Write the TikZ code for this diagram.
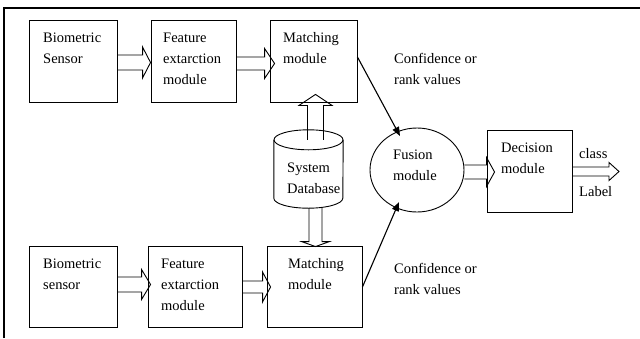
\documentclass[tikz,border=0pt]{standalone}
\usepackage{fontspec}
\setmainfont{Liberation Serif}
\usetikzlibrary{calc,arrows.meta,shapes.geometric}
% horizontal block arrow: start, tip, shaft half height, head half height, head length
\newcommand{\blkR}[5]{\draw[blk] let \p1=(#1), \p2=(#2) in
  (\x1,\y2+#3) -- (\x2-#5,\y2+#3) -- (\x2-#5,\y2+#4) -- (\x2,\y2)
  -- (\x2-#5,\y2-#4) -- (\x2-#5,\y2-#3) -- (\x1,\y2-#3);}
% upward block arrow
\newcommand{\blkU}[5]{\draw[blk] let \p1=(#1), \p2=(#2) in
  (\x2-#3,\y1) -- (\x2-#3,\y2-#5) -- (\x2-#4,\y2-#5) -- (\x2,\y2)
  -- (\x2+#4,\y2-#5) -- (\x2+#3,\y2-#5) -- (\x2+#3,\y1);}
% downward block arrow
\newcommand{\blkD}[5]{\draw[blk] let \p1=(#1), \p2=(#2) in
  (\x2-#3,\y1) -- (\x2-#3,\y2+#5) -- (\x2-#4,\y2+#5) -- (\x2,\y2)
  -- (\x2+#4,\y2+#5) -- (\x2+#3,\y2+#5) -- (\x2+#3,\y1);}
\begin{document}
\begin{tikzpicture}[x=1pt,y=-1pt,
  box/.style={draw, line width=0.9pt, rectangle, inner sep=0pt},
  blk/.style={draw, line width=0.9pt, line join=miter},
  lbl/.style={anchor=north west, inner sep=0pt, align=left,
    font=\fontsize{14.5}{21}\selectfont},
  thin/.style={line width=1.1pt, -{Triangle[length=9pt,width=7pt]}},
  frame/.style={line width=1.3pt}]
\useasboundingbox (0,0) rectangle (640,338);
\draw[frame] (4,338) -- (4,8) -- (640,8);

% boxes
\node[box, minimum width=88pt, minimum height=82pt] (b1) at (73,61) {};
\node[box, minimum width=85pt, minimum height=82pt] (b2) at (193.5,61) {};
\node[box, minimum width=87pt, minimum height=82pt] (b3) at (313.5,61) {};
\node[box, minimum width=88pt, minimum height=81pt] (b4) at (73,286.5) {};
\node[box, minimum width=94pt, minimum height=81pt] (b5) at (195,286.5) {};
\node[box, minimum width=95pt, minimum height=81pt] (b6) at (314.5,286.5) {};
\node[box, minimum width=85pt, minimum height=82pt] (dec) at (529.5,171) {};
\node[draw, line width=0.9pt, ellipse, inner sep=0pt, minimum width=94pt, minimum height=84pt] (fus) at (417,170) {};
\node[inner sep=0pt, minimum width=69pt, minimum height=78pt] (db) at (308.5,169) {};
\coordinate (out) at (619,171.5);

% cylinder
\draw[line width=0.9pt] ($(db.north)+(0,10)$) ellipse [x radius=34.5pt, y radius=10pt];
\draw[line width=0.9pt] ($(db.north west)+(0,10)$) -- ($(db.south west)+(0,-10)$)
  arc[start angle=180, end angle=360, x radius=34.5pt, y radius=10pt]
  -- ($(db.north east)+(0,10)$);

% block arrows
\blkR{b1.east}{$(b2.west)+(0,1.5)$}{7.5pt}{15.5pt}{8pt}
\blkR{b2.east}{$(b3.west)+(5,2.5)$}{6.5pt}{15pt}{10pt}
\blkR{b4.east}{$(b5.west)+(3,-2)$}{7.5pt}{15pt}{9pt}
\blkR{b5.east}{$(b6.west)+(4,0.5)$}{6pt}{15pt}{8pt}
\blkR{fus.east}{$(dec.west)+(8,1)$}{7pt}{14.5pt}{8pt}
\blkR{dec.east}{out}{4.5pt}{9pt}{10pt}
\blkU{$(db.north)+(0,10)$}{$(b3.south)+(2,-8)$}{8pt}{16.5pt}{11pt}
\blkD{db.south}{$(b6.north)+(1,1)$}{6.5pt}{14pt}{5pt}

% thin arrows
\draw[thin] ($(b3.east)+(0,-4)$) -- ($(fus.center)+(-17,-34)$);
\draw[thin] ($(b6.east)+(0,0.5)$) -- ($(fus.center)+(-18,32)$);

% texts
\node[lbl] (t1) at (43,27.1) {\strut Biometric\\Sensor};
\node[lbl] (t2) at (163,27.1) {\strut Feature\\extarction\\module};
\node[lbl] (t3) at (283,27.1) {\strut Matching\\module};
\node[lbl] (t4) at (43,253.1) {\strut Biometric\\sensor};
\node[lbl] (t5) at (161,253.1) {\strut Feature\\extarction\\module};
\node[lbl] (t6) at (288,253.1) {\strut Matching\\module};
\node[lbl] (c1) at (394,48.1) {\strut Confidence or\\rank values};
\node[lbl] (c2) at (394,258.1) {\strut Confidence or\\rank values};
\node[lbl] (tdb) at (287,157.1) {\strut System\\Database};
\node[lbl] (tf) at (393,144.4) {\strut Fusion\\module};
\node[lbl] (td) at (501,137.1) {\strut Decision\\module};
\node[lbl] (tc) at (579,143.1) {\strut class};
\node[lbl] (tl) at (579,181.6) {\strut Label};
\end{tikzpicture}
\end{document}
